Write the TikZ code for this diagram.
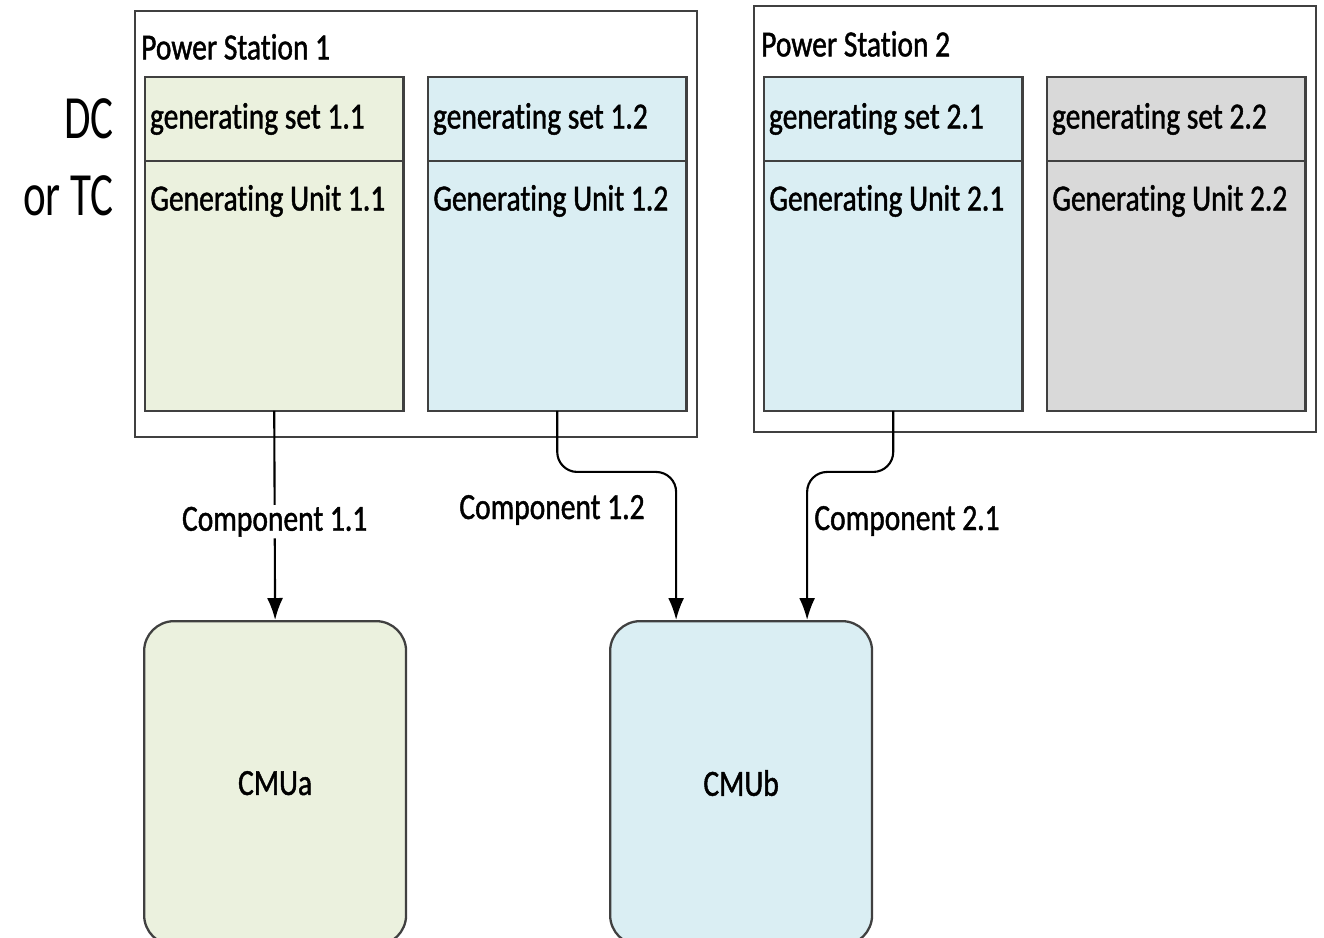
\documentclass[tikz,border=0pt]{standalone}
\usepackage{fontspec}
\setmainfont{Carlito}[FakeStretch=0.8,FakeBold=1.2,RawFeature=-liga]
\newfontfamily\dcfont{Carlito}[FakeStretch=0.7]
\usetikzlibrary{positioning,calc,fit,arrows.meta}
\definecolor{olv}{HTML}{EBF1DE}
\definecolor{aqu}{HTML}{DAEEF3}
\definecolor{gry}{HTML}{D9D9D9}
\definecolor{edge}{HTML}{404040}
\tikzset{setbox/.style={draw=edge,line width=1.3pt,outer sep=0pt,anchor=north west,minimum height=1.68cm,text width=4.97cm,inner xsep=0.1cm,align=flush left},
  unitbox/.style={draw=edge,line width=1.3pt,outer sep=0pt,minimum width=5.17cm,minimum height=5cm,inner sep=0pt},
  unittext/.style={anchor=west,inner sep=0pt},
  station/.style={draw=edge,line width=1.3pt,inner sep=0pt},
  cmu/.style={draw=edge,line width=1.3pt,rounded corners=0.6cm,minimum width=5.24cm,minimum height=6.48cm,anchor=north west},
  conn/.style={line width=1.2pt,rounded corners=0.4cm,-{Latex[length=0.44cm,width=0.32cm]}},
  complabel/.style={fill=white,inner sep=1pt}}

\begin{document}
\begin{tikzpicture}[x=0.02cm,y=-0.02cm,font=\fontsize{21}{24}\selectfont]
          \useasboundingbox (0,0) rectangle (1324,937);

          % the two power stations
          \coordinate (ps1a) at (135,11);
          \coordinate (ps1b) at (697,437);
          \node (ps1) [station,fit=(ps1a) (ps1b)] {};
          \node (ps1t) [anchor=west,inner sep=0pt] at ($(ps1.north west)+(7,37)$) {Power Station 1};
          \coordinate (ps2a) at (754,6);
          \coordinate (ps2b) at (1316,432);
          \node (ps2) [station,fit=(ps2a) (ps2b)] {};
          \node (ps2t) [anchor=west,inner sep=0pt] at ($(ps2.north west)+(8,39)$) {Power Station 2};

          \node (dc) [anchor=east,align=right,inner sep=0pt,font=\fontsize{35}{44}\dcfont] at (114,157) {DC\\or TC};

          % generating sets and units
          \foreach \i/\j/\x/\c in {1/1/145/olv, 1/2/428/aqu, 2/1/764/aqu, 2/2/1047/gry}
          {\node (gs-\i-\j) [setbox,fill=\c] at (\x,77) {generating set \i.\j};
            \node (gu-\i-\j) [unitbox,fill=\c,below=0pt of gs-\i-\j] {};
            \node (gt-\i-\j) [unittext] at ($(gu-\i-\j.north west)+(5,40)$) {Generating Unit \i.\j};}

          % capacity market units
          \node (cmua) [cmu,fill=olv] at (143,620) {CMUa};
          \node (cmub) [cmu,fill=aqu] at (609,620) {CMUb};
          \coordinate (in12) at ($(cmub.north)+(-65,0)$);
          \coordinate (in21) at ($(cmub.north)+(66,0)$);

          % components
          \draw[conn] (gu-1-1.south) -- node (l11) [complabel,pos=0.53] {Component 1.1} (cmua.north);
          \draw[conn] (gu-1-2.south) -- ++(0,61) -| (in12);
          \draw[conn] (gu-2-1.south) -- ++(0,61) -| (in21);
          \node (l12) [complabel] at (552,510) {Component 1.2};
          \node (l21) [complabel] at (907,521) {Component 2.1};

        \end{tikzpicture}
\end{document}
